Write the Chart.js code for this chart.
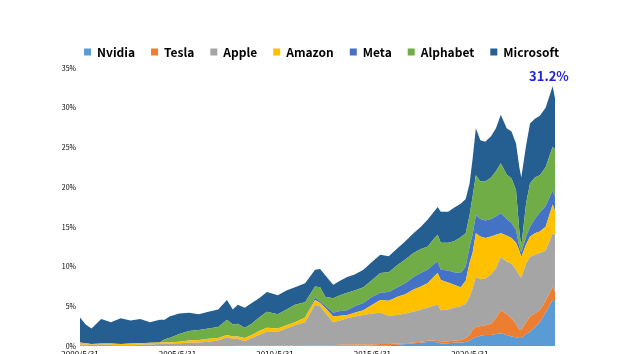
<!DOCTYPE html>
<html lang="ja">
<head>
    <meta charset="UTF-8">
    <title>Mega-cap weights</title>
    <script src="https://cdn.jsdelivr.net/npm/chart.js"></script>
    <style>
        html, body {
            margin: 0;
            padding: 0;
            background: #fff;
            overflow: hidden;
        }
        #wrap {
            position: relative;
            width: 630px;
            height: 366px;
        }
    </style>
</head>
<body>
    <div id="wrap"><canvas id="weightChart"></canvas></div>

    <script>
        // dates as decimal years (2000.41 = 2000/5/31)
        const dates = [
            2000.41, 2000.7, 2001.0, 2001.5, 2002.0, 2002.5, 2003.0, 2003.5, 2004.0, 2004.5,
            2004.75, 2005.0, 2005.5, 2006.0, 2006.5, 2007.0, 2007.5, 2007.95, 2008.25, 2008.5,
            2008.86, 2009.22, 2009.6, 2010.0, 2010.56, 2011.0, 2011.44, 2011.96, 2012.47, 2012.73,
            2012.99, 2013.4, 2013.75, 2014.12, 2014.5, 2014.95, 2015.4, 2015.82, 2016.25, 2016.7,
            2017.1, 2017.52, 2017.9, 2018.24, 2018.6, 2018.76, 2018.92, 2019.3, 2019.6, 2019.94,
            2020.2, 2020.4, 2020.55, 2020.72, 2020.95, 2021.2, 2021.5, 2021.75, 2022.0, 2022.3,
            2022.55, 2022.78, 2022.95, 2023.05, 2023.3, 2023.5, 2023.75, 2024.0, 2024.3, 2024.66,
            2024.78
        ];

        // weights in %, bottom of the stack first
        const nvidia = [
            0.05, 0.05, 0.1, 0.1, 0.1, 0.05, 0.05, 0.1, 0.1, 0.1,
            0.1, 0.1, 0.1, 0.1, 0.1, 0.1, 0.1, 0.1, 0.1, 0.05,
            0.05, 0.05, 0.05, 0.05, 0.05, 0.05, 0.05, 0.05, 0.05, 0.05,
            0.05, 0.05, 0.05, 0.05, 0.05, 0.05, 0.05, 0.1, 0.1, 0.15,
            0.25, 0.35, 0.4, 0.5, 0.5, 0.45, 0.3, 0.35, 0.4, 0.45,
            0.5, 0.7, 0.9, 1.1, 1.3, 1.4, 1.4, 1.5, 1.6, 1.4,
            1.2, 1.1, 1.0, 1.0, 1.5, 1.8, 2.4, 3.0, 4.2, 5.8,
            5.8
        ];
        const tesla = [
            0, 0, 0, 0, 0, 0, 0, 0, 0, 0,
            0, 0, 0, 0, 0, 0, 0, 0, 0, 0,
            0, 0, 0, 0, 0, 0, 0, 0, 0.05, 0.05,
            0.05, 0.05, 0.1, 0.15, 0.15, 0.15, 0.15, 0.15, 0.15, 0.15,
            0.1, 0.1, 0.15, 0.15, 0.2, 0.3, 0.2, 0.25, 0.25, 0.3,
            0.5, 0.7, 1.1, 1.3, 1.2, 1.2, 1.4, 2.0, 2.9, 2.6,
            2.3, 1.7, 1.0, 1.0, 1.5, 1.9, 1.7, 1.5, 1.5, 1.6,
            1.0
        ];
        const apple = [
            0.15, 0.1, 0.05, 0.1, 0.05, 0.05, 0.05, 0.05, 0.1, 0.15,
            0.15, 0.2, 0.25, 0.3, 0.35, 0.45, 0.6, 1.0, 0.8, 0.85,
            0.55, 0.95, 1.35, 1.75, 1.75, 2.15, 2.55, 2.95, 5.1, 4.9,
            4.1, 2.9, 3.05, 3.3, 3.5, 3.7, 3.9, 3.95, 3.55, 3.6,
            3.75, 3.85, 4.05, 4.15, 4.4, 4.45, 4.0, 4.0, 4.15, 4.25,
            4.3, 4.8, 5.2, 6.3, 5.9, 5.9, 6.2, 6.3, 6.7, 6.6,
            6.9, 6.8, 6.9, 6.6, 7.4, 7.5, 7.4, 7.2, 6.3, 6.8,
            7.2
        ];
        const amazon = [
            0.25, 0.2, 0.1, 0.1, 0.15, 0.15, 0.2, 0.2, 0.2, 0.2,
            0.2, 0.15, 0.2, 0.3, 0.3, 0.35, 0.3, 0.3, 0.3, 0.3,
            0.4, 0.4, 0.5, 0.5, 0.4, 0.4, 0.4, 0.6, 0.6, 0.4,
            0.6, 0.7, 0.6, 0.4, 0.5, 0.6, 1.1, 1.6, 1.9, 2.3,
            2.4, 2.8, 2.9, 3.1, 3.7, 4.0, 3.8, 3.4, 2.9, 2.4,
            2.9, 4.3, 4.5, 5.5, 5.4, 5.1, 4.8, 4.2, 3.0, 3.3,
            3.2, 3.4, 3.1, 2.6, 2.4, 2.6, 2.7, 2.7, 3.0, 3.6,
            3.0
        ];
        const meta = [
            0, 0, 0, 0, 0, 0, 0, 0, 0, 0,
            0, 0, 0, 0, 0, 0, 0, 0, 0, 0,
            0, 0, 0, 0, 0, 0, 0, 0, 0.3, 0.2,
            0.3, 0.5, 0.6, 0.6, 0.8, 0.9, 1.0, 0.9, 1.1, 1.2,
            1.4, 1.6, 1.7, 1.7, 1.6, 1.4, 1.3, 1.5, 1.6, 1.8,
            1.8, 2.0, 2.3, 2.3, 2.2, 2.2, 2.2, 2.3, 2.5, 2.1,
            1.9, 1.6, 0.5, 0.6, 1.0, 1.2, 1.8, 2.4, 2.6, 1.8,
            1.8
        ];
        const alphabet = [
            0, 0, 0, 0, 0, 0, 0, 0, 0, 0,
            0.4, 0.55, 0.95, 1.2, 1.25, 1.3, 1.4, 1.9, 1.5, 1.6,
            1.3, 1.4, 1.7, 2.0, 1.8, 2.0, 2.2, 1.9, 1.4, 1.8,
            1.1, 1.8, 2.0, 2.2, 2.0, 2.0, 2.1, 2.5, 2.5, 2.8,
            3.0, 3.0, 3.0, 2.9, 3.2, 3.4, 3.4, 3.5, 3.9, 4.5,
            4.2, 4.0, 4.8, 5.0, 4.7, 4.9, 5.2, 5.7, 6.3, 5.6,
            5.6, 5.0, 2.0, 0.7, 4.2, 5.5, 5.2, 4.7, 4.9, 5.5,
            5.9
        ];
        const microsoft = [
            3.15, 2.35, 1.95, 3.1, 2.7, 3.25, 2.9, 3.05, 2.6, 2.85,
            2.45, 2.7, 2.6, 2.3, 2.0, 2.1, 2.2, 2.5, 1.9, 2.4,
            2.5, 2.6, 2.4, 2.5, 2.4, 2.4, 2.2, 2.4, 2.1, 2.3,
            2.7, 1.7, 1.8, 2.0, 2.0, 2.2, 2.3, 2.3, 2.0, 2.1,
            2.3, 2.5, 2.8, 3.4, 3.4, 3.5, 3.9, 3.9, 4.2, 4.2,
            4.3, 4.0, 4.7, 5.9, 5.2, 5.0, 5.2, 5.4, 6.1, 5.8,
            5.9, 5.9, 8.0, 8.7, 7.3, 7.5, 7.4, 7.5, 7.5, 7.6,
            6.5
        ];

        const seriesNames = ['Nvidia', 'Tesla', 'Apple', 'Amazon', 'Meta', 'Alphabet', 'Microsoft'];
        const seriesValues = [nvidia, tesla, apple, amazon, meta, alphabet, microsoft];
        const seriesColors = ['#5B9BD5', '#ED7D31', '#A5A5A5', '#FFC000', '#4472C4', '#70AD47', '#255E91'];

        const tickYears = [2000, 2005, 2010, 2015, 2020];
        const tickLabels = ['2000/5/31', '2005/5/31', '2010/5/31', '2015/5/31', '2020/5/31'];
        const yTicks = [0, 5, 10, 15, 20, 25, 30, 35];

        Chart.defaults.font.family = "'Noto Sans CJK JP', 'Noto Sans', sans-serif";
        Chart.defaults.color = '#000';

        const datasets = seriesNames.map((name, i) => ({
            label: name,
            data: seriesValues[i].map((v, j) => ({ x: dates[j], y: v })),
            backgroundColor: seriesColors[i],
            borderColor: seriesColors[i],
            borderWidth: 0,
            pointRadius: 0,
            tension: 0,
            fill: i === 0 ? 'origin' : '-1'
        }));

        // fixed legend height so the plot starts where the reference does,
        // and nudge the legend right so it sits over the plot like the original
        const legendTweak = {
            id: 'legendTweak',
            beforeLayout(chart) {
                const lg = chart.legend;
                if (lg && !lg._patched) {
                    const fit = lg.fit;
                    lg.fit = function () {
                        fit.call(this);
                        this.height = 38;
                    };
                    lg._patched = true;
                }
            },
            afterLayout(chart) {
                chart.legend.left += 44;
                chart.legend.right += 44;
            }
        };

        // total label above the last point
        const totalLabel = {
            id: 'totalLabel',
            afterDatasetsDraw(chart) {
                const last = dates.length - 1;
                const total = seriesValues.reduce((s, arr) => s + arr[last], 0);
                const pt = chart.getDatasetMeta(seriesNames.length - 1).data[last];
                const ctx = chart.ctx;
                ctx.save();
                ctx.font = "bold 13px 'Noto Sans CJK JP', sans-serif";
                ctx.fillStyle = '#2222D8';
                ctx.textAlign = 'center';
                ctx.textBaseline = 'middle';
                ctx.fillText(total.toFixed(1) + '%', pt.x - 6, pt.y - 22);
                ctx.restore();
            }
        };

        new Chart(document.getElementById('weightChart'), {
            type: 'line',
            data: { datasets },
            plugins: [legendTweak, totalLabel],
            options: {
                responsive: true,
                maintainAspectRatio: false,
                animation: false,
                layout: { padding: { top: 30, right: 75, bottom: 0, left: 0 } },
                plugins: {
                    legend: {
                        position: 'top',
                        labels: {
                            boxWidth: 7,
                            boxHeight: 7,
                            padding: 16,
                            font: { size: 12, weight: 'bold' }
                        }
                    },
                    tooltip: { enabled: false }
                },
                scales: {
                    x: {
                        type: 'linear',
                        min: 2000.41,
                        max: 2024.78,
                        grid: { display: false, drawTicks: false },
                        border: { display: false },
                        afterBuildTicks: (s) => {
                            s.ticks = tickYears.map(y => ({ value: y + 0.41 }));
                        },
                        afterFit: (s) => { s.height = 20; },
                        ticks: {
                            autoSkip: false,
                            maxRotation: 0,
                            padding: 3,
                            font: { size: 8 },
                            callback: (v, i) => tickLabels[i]
                        }
                    },
                    y: {
                        stacked: true,
                        min: 0,
                        max: 35,
                        grid: { display: false, drawTicks: false },
                        border: { display: false },
                        afterBuildTicks: (s) => {
                            s.ticks = yTicks.map(v => ({ value: v }));
                        },
                        afterFit: (s) => { s.width = 80; },
                        ticks: {
                            padding: 4,
                            font: { size: 7 },
                            callback: (v) => v + '%'
                        }
                    }
                }
            }
        });
    </script>
</body>
</html>
